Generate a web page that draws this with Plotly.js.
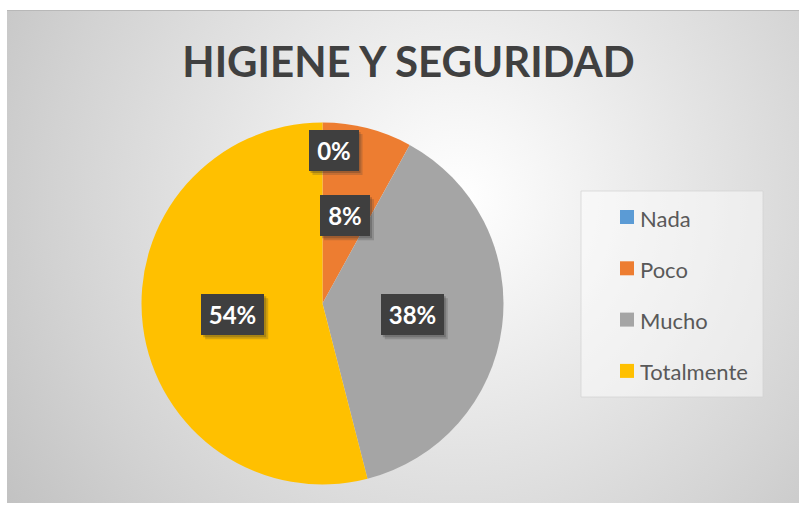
<!DOCTYPE html>
<html>
<head>
<meta charset="utf-8">
<script src="https://cdn.plot.ly/plotly-3.0.1.min.js"></script>
<style>
  html, body { margin: 0; padding: 0; background: #ffffff; }
  #bg {
    position: absolute; left: 7px; top: 10px; width: 792px; height: 493px;
    background: radial-gradient(circle at 57% 38%, #ffffff 0%, #f7f7f7 14%, #e4e4e4 45%, #d2d2d2 75%, #c2c2c2 100%);
    border-top: 1px solid #b8b8b8;
    box-sizing: border-box;
  }
  #chart { position: absolute; left: 0; top: 0; width: 799px; height: 508px; }
</style>
</head>
<body>
<div id="bg"></div>
<div id="chart"></div>
<script>
// ---- data ----
const categories = ['Nada', 'Poco', 'Mucho', 'Totalmente'];
const values = [0, 8, 38, 54];
const colors = ['#5B9BD5', '#ED7D31', '#A5A5A5', '#FFC000'];
const chartTitle = 'HIGIENE Y SEGURIDAD';

// ---- geometry (pixels -> paper) ----
const W = 799, H = 508;
const px = x => x / W;
const py = y => 1 - y / H;
const pieLeft = 141.5, pieRight = 503.5, pieTop = 122, pieBottom = 485;
const cx = (pieLeft + pieRight) / 2, cy = (pieTop + pieBottom) / 2;
const R = Math.min(pieRight - pieLeft, pieBottom - pieTop) / 2;

const FONT = 'Lato, "Open Sans", sans-serif';

const trace = {
  type: 'pie',
  labels: categories,
  values: values,
  marker: { colors: colors, line: { width: 0 } },
  sort: false,
  direction: 'clockwise',
  rotation: 0,
  textinfo: 'none',
  hoverinfo: 'label+percent',
  showlegend: false,
  domain: { x: [px(pieLeft), px(pieRight)], y: [py(pieBottom), py(pieTop)] }
};

// data labels computed from slice mid-angles
const total = values.reduce((a, b) => a + b, 0);
const annotations = [];
const shapes = [];
let cum = 0;
const PAD = 6;
values.forEach((v, i) => {
  const mid = (cum + v / 2) / total * 2 * Math.PI;
  cum += v;
  const f = v === 0 ? 0.845 : 0.5;
  const x = cx + f * R * Math.sin(mid) + (v === 0 ? 11 : 0);
  const y = cy - f * R * Math.cos(mid);
  const txt = Math.round(v / total * 100) + '%';
  const bw = txt.length <= 2 ? 38 : 51;
  const bh = 29;
  // soft shadow
  const ow = bw / 2 + PAD, oh = bh / 2 + PAD;
  shapes.push({
    type: 'rect', xref: 'paper', yref: 'paper',
    x0: px(x - ow + 4), x1: px(x + ow + 4), y0: py(y + oh + 4), y1: py(y - oh + 4),
    fillcolor: 'rgba(60,60,60,0.22)', line: { width: 0 }
  });
  shapes.push({
    type: 'rect', xref: 'paper', yref: 'paper',
    x0: px(x - ow + 2), x1: px(x + ow + 2), y0: py(y + oh + 2), y1: py(y - oh + 2),
    fillcolor: 'rgba(40,40,40,0.25)', line: { width: 0 }
  });
  annotations.push({
    x: px(x), y: py(y), xref: 'paper', yref: 'paper',
    xanchor: 'center', yanchor: 'middle', showarrow: false,
    text: '<b>' + txt + '</b>', width: bw, height: bh,
    font: { family: FONT, size: 24, color: '#ffffff' },
    bgcolor: '#3f3f3f', borderpad: PAD, borderwidth: 0
  });
});

// manual legend
const legLeft = 581, legRight = 763, legTop = 191, legBottom = 397;
shapes.push({
  type: 'rect', xref: 'paper', yref: 'paper',
  x0: px(legLeft), x1: px(legRight), y0: py(legBottom), y1: py(legTop),
  fillcolor: 'rgba(255,255,255,0.45)', line: { color: 'rgba(210,210,210,0.7)', width: 1 }
});
const legItemY0 = 217, legStep = 51.3;
categories.forEach((c, i) => {
  const yc = legItemY0 + i * legStep;
  shapes.push({
    type: 'rect', xref: 'paper', yref: 'paper',
    x0: px(620), x1: px(634), y0: py(yc + 7), y1: py(yc - 7),
    fillcolor: colors[i], line: { width: 0 }
  });
  annotations.push({
    x: px(638), y: py(yc + 1), xref: 'paper', yref: 'paper',
    xanchor: 'left', yanchor: 'middle', showarrow: false,
    text: c, font: { family: FONT, size: 22, color: '#595959' }
  });
});

const layout = {
  width: W, height: H,
  margin: { l: 0, r: 0, t: 0, b: 0 },
  paper_bgcolor: 'rgba(0,0,0,0)',
  plot_bgcolor: 'rgba(0,0,0,0)',
  title: {
    text: '<b>' + chartTitle + '</b>',
    x: px(408.5), xanchor: 'center', xref: 'paper',
    y: py(62), yanchor: 'middle', yref: 'paper',
    font: { family: FONT, size: 42, color: '#404040' }
  },
  showlegend: false,
  annotations: annotations,
  shapes: shapes
};

Plotly.newPlot('chart', [trace], layout, { staticPlot: true, displayModeBar: false });
</script>
</body>
</html>
